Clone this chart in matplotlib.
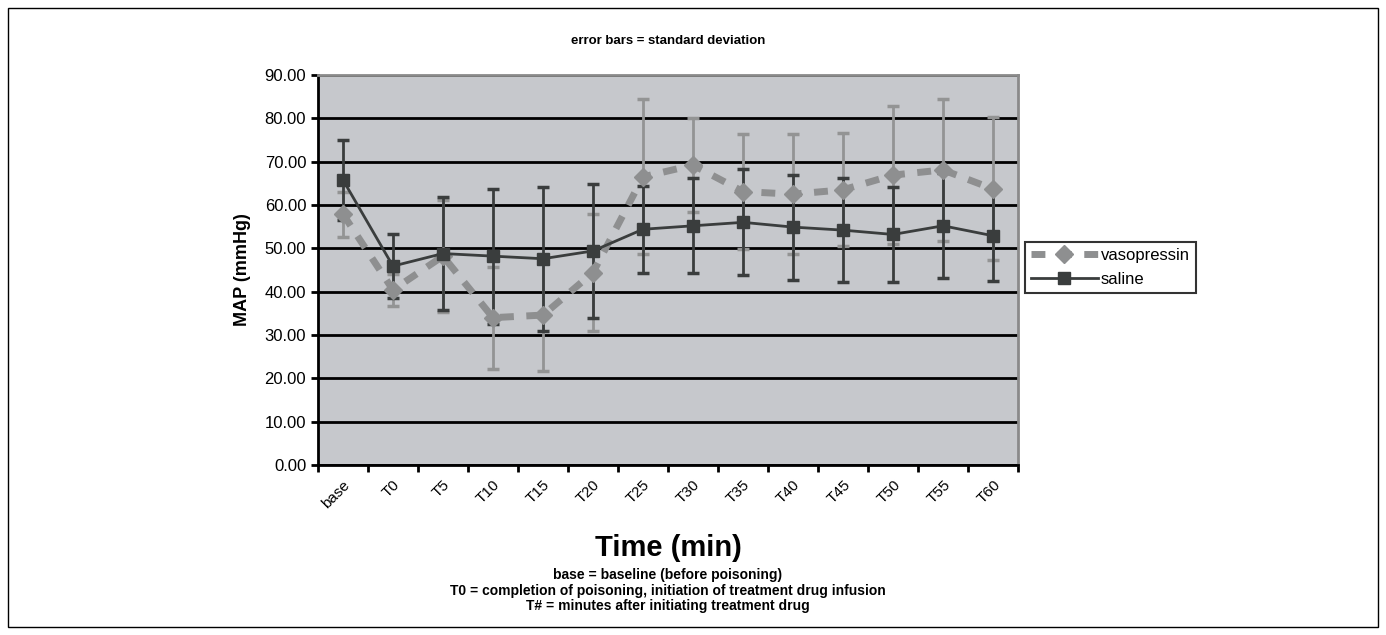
import numpy as np
import matplotlib.pyplot as plt
from matplotlib.patches import Rectangle

plt.rcParams['font.family'] = ['Liberation Sans', 'DejaVu Sans']

labels = ['base', 'T0', 'T5', 'T10', 'T15', 'T20', 'T25', 'T30', 'T35', 'T40', 'T45', 'T50', 'T55', 'T60']

vaso_mean = [57.9, 40.4, 48.2, 34.0, 34.6, 44.4, 66.5, 69.2, 63.1, 62.5, 63.5, 66.9, 68.1, 63.7]
vaso_sd = [5.2, 3.7, 13.0, 11.8, 12.8, 13.5, 17.9, 10.8, 13.2, 13.8, 13.0, 16.0, 16.3, 16.5]

saline_mean = [65.8, 45.9, 48.8, 48.2, 47.6, 49.4, 54.4, 55.2, 56.0, 54.9, 54.2, 53.2, 55.2, 52.9]
saline_sd = [9.2, 7.4, 13.0, 15.6, 16.6, 15.4, 10.0, 11.0, 12.2, 12.1, 12.0, 10.9, 12.1, 10.5]

x = np.arange(len(labels))

fig = plt.figure(figsize=(13.86, 6.35), dpi=100)
ax = fig.add_axes([0.2294, 0.2677, 0.5051, 0.6142])
ax.set_facecolor('#c6c8cc')

vaso_col = '#8e8f90'
sal_col = '#3a3d3d'

ax.errorbar(x, vaso_mean, yerr=vaso_sd, fmt='none', ecolor='#939494', elinewidth=2, capsize=4, capthick=2.5, zorder=3)
ax.errorbar(x, saline_mean, yerr=saline_sd, fmt='none', ecolor=sal_col, elinewidth=2, capsize=4, capthick=2.5, zorder=4)
ax.plot(x, vaso_mean, color=vaso_col, lw=5, dashes=(2, 1.8), marker='D', ms=9.5, mfc=vaso_col, mec=vaso_col,
        label='vasopressin', zorder=5)
ax.plot(x, saline_mean, color=sal_col, lw=2, marker='s', ms=9, mfc=sal_col, mec=sal_col,
        label='saline', zorder=6)

ax.set_xlim(-0.5, len(labels) - 0.5)
ax.set_ylim(0, 90)
ax.set_yticks(np.arange(0, 91, 10))
ax.set_yticklabels(['%.2f' % v for v in np.arange(0, 91, 10)], fontsize=12)
ax.yaxis.grid(True, color='black', lw=2)
ax.set_axisbelow(True)

ax.set_xticks(x)
ax.set_xticklabels(labels, rotation=45, ha='right', rotation_mode='anchor', fontsize=11)
ax.set_xticks(np.arange(-0.5, len(labels)), minor=True)
ax.tick_params(axis='x', which='major', length=0, pad=9)
ax.tick_params(axis='x', which='minor', length=5, width=2, direction='out')
ax.tick_params(axis='y', length=5, width=2, direction='out')

for s in ['left', 'bottom']:
    ax.spines[s].set_color('black')
    ax.spines[s].set_linewidth(2)
for s in ['top', 'right']:
    ax.spines[s].set_color('#8a8a8a')
    ax.spines[s].set_linewidth(2)

ax.set_ylabel('MAP (mmHg)', fontsize=13, fontweight='bold', labelpad=10)

leg = ax.legend(loc='upper left', bbox_to_anchor=(1.01, 0.572), fontsize=12, frameon=True,
                fancybox=False, edgecolor='black', handlelength=4.0, borderpad=0.35,
                labelspacing=0.55, handletextpad=0.2, borderaxespad=0)
leg.get_frame().set_linewidth(1.5)

fig.text(0.482, 0.935, 'error bars = standard deviation', ha='center', va='center',
         fontsize=9.5, fontweight='bold')

fig.text(0.482, 0.137, 'Time (min)', ha='center', va='center', fontsize=21, fontweight='bold')
sub = ['base = baseline (before poisoning)',
       'T0 = completion of poisoning, initiation of treatment drug infusion',
       'T# = minutes after initiating treatment drug']
for i, t in enumerate(sub):
    fig.text(0.482, 0.094 - i * 0.0245, t, ha='center', va='center', fontsize=10,
             fontweight='bold')

fig.patches.append(Rectangle((0.006, 0.012), 0.988, 0.976, transform=fig.transFigure,
                             fill=False, edgecolor='black', lw=1))

fig.savefig('out.png', dpi=100)
